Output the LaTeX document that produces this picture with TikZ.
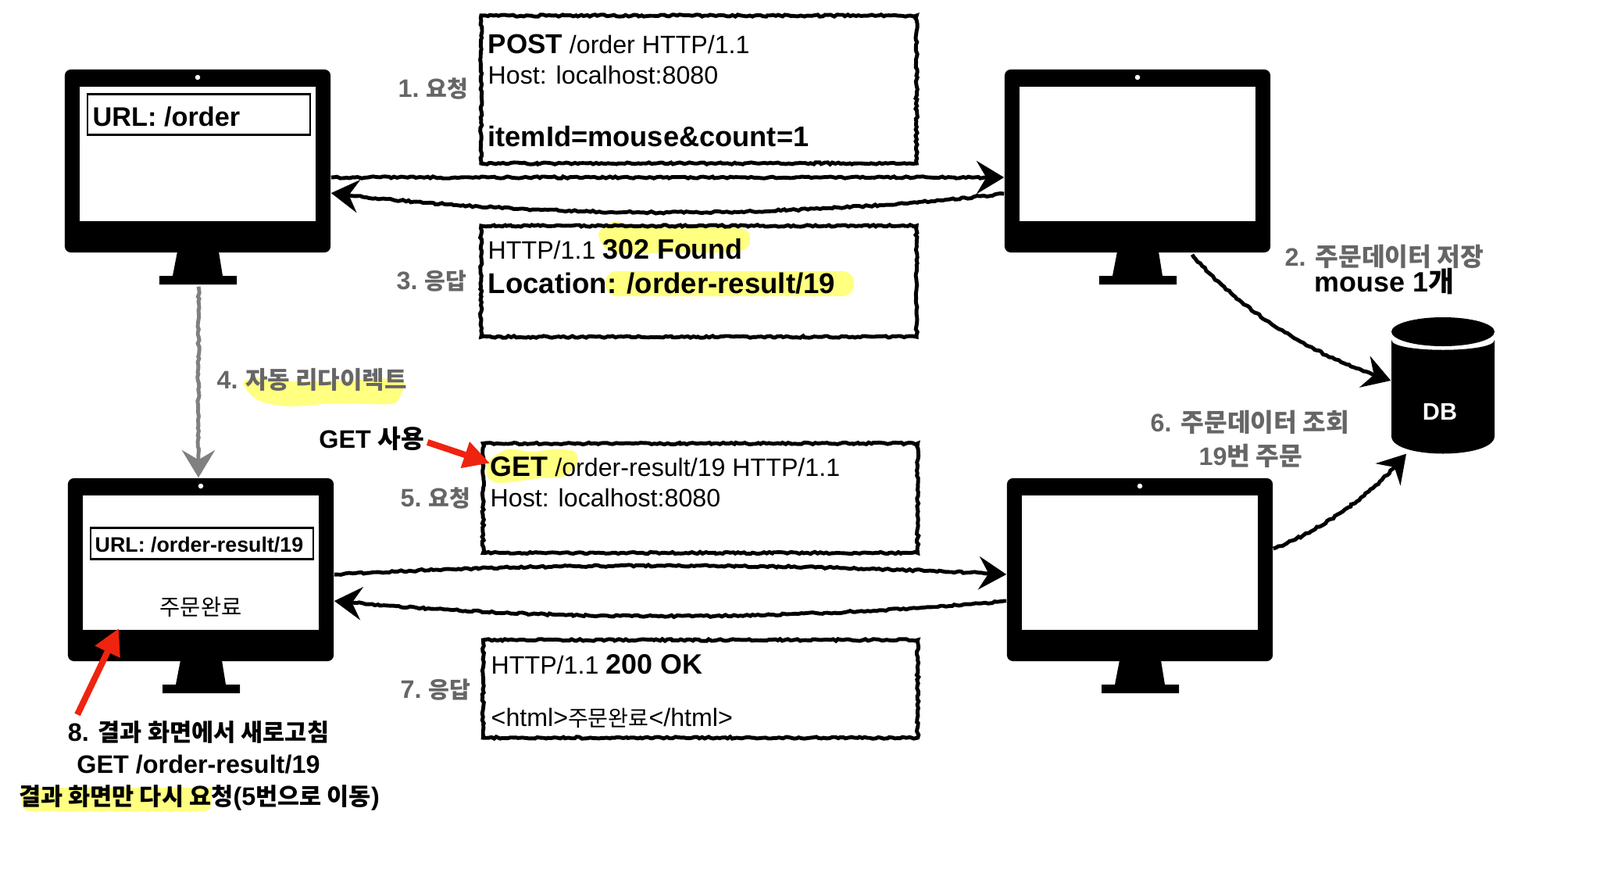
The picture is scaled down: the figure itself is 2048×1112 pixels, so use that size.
\documentclass[tikz,border=0pt]{standalone}
\usepackage{fontspec}
\usepackage{tikz}
\usetikzlibrary{decorations.pathmorphing,arrows.meta}
\setmainfont{Liberation Sans}
\newfontfamily\krfont{Noto Sans CJK KR}
\newcommand{\kr}[1]{{\krfont #1}}
\newcommand{\krsize}[2]{{\krfont\fontsize{#1}{11}\selectfont #2}}
\newcommand{\hv}[1]{{\fontsize{10.2}{12}\selectfont\bfseries #1}}
\definecolor{marker}{HTML}{FFFF80}
\definecolor{redmark}{HTML}{EE2410}
\definecolor{steptext}{HTML}{666666}
\newcommand{\monitor}[3]{
\begin{scope}[shift={(#2,#3)}]
\fill (-26,116) -- (27,116) -- (32,147) -- (50,147) -- (50,158) -- (-49,158) -- (-49,147) -- (-32,147) -- cycle;
\node[frame] (#1) at (0,0) {};
\node[screen] (#1screen) at (0,-9) {};
\node[camera] (#1cam) at (0,-107) {};
\end{scope}
}
\begin{document}
\begin{tikzpicture}[x=0.01cm,y=-0.01cm,
frame/.style={fill=black,rounded corners=2.2pt,minimum width=3.4cm,minimum height=2.34cm,inner sep=0},
screen/.style={fill=white,minimum width=3.02cm,minimum height=1.72cm,inner sep=0},
camera/.style={circle,fill=white,minimum size=0.065cm,inner sep=0},
urlbox/.style={draw,line width=0.7pt,inner sep=0},
msgbox/.style={draw,line width=1.4pt,inner sep=0,decorate,decoration={random steps,segment length=1pt,amplitude=0.35pt}},
rough/.style={line width=1.4pt,decorate,decoration={random steps,segment length=1.1pt,amplitude=0.35pt,post length=7pt}},
head/.style={-{Stealth[length=10pt,width=12pt,inset=3.5pt]}},
redarrow/.style={redmark,line width=2.3pt,-{Triangle[length=9.5pt,width=9.5pt]}},
txt/.style={inner sep=0,anchor=base west,font=\fontsize{9.15}{11}\selectfont},
big/.style={inner sep=0,anchor=base west,font=\fontsize{10.3}{12}\selectfont\bfseries},
steplabel/.style={inner sep=0,anchor=base west,text=steptext,font=\fontsize{9.2}{11}\selectfont\bfseries},
note/.style={inner sep=0,anchor=base,font=\fontsize{9.2}{11}\selectfont\bfseries},
]
\useasboundingbox (0,0) rectangle (2048,1112);
\fill[marker] plot[smooth cycle] coordinates {(784,284)(766,300)(785,323)(860,323)(945,322)(960,305)(945,291)(860,292)(810,288)};
\fill[marker,rounded corners=4pt] (775,347) rectangle (1093,379);
\fill[marker] plot[smooth cycle] coordinates {(311,490)(330,512)(370,520)(430,516)(500,517)(513,505)(513,485)(440,487)(380,488)(330,484)};
\fill[marker] plot[smooth cycle] coordinates {(625,590)(650,575)(680,578)(710,575)(736,578)(738,595)(720,610)(690,612)(640,618)(624,610)};
\fill[marker] (28,1008) [rounded corners=3pt] -- (28,1038) -- (271,1038) [sharp corners] -- (271,1008) -- cycle;
\monitor{cli}{253}{206}
\monitor{srv}{1456}{206}
\monitor{res}{257}{729}
\monitor{srvb}{1459}{729}
\node[urlbox,minimum width=2.85cm,minimum height=0.52cm] (urlcli) at (254.5,146.5) {};
\node[big,font=\fontsize{9.75}{12}\selectfont\bfseries] (urlclitext) at (118,161) {URL: /order};
\node[urlbox,minimum width=2.85cm,minimum height=0.4cm] (urlres) at (258.5,695.5) {};
\node[big,font=\fontsize{7.62}{9}\selectfont\bfseries] (urlrestext) at (121,706) {URL: /order-result/19};
\node[inner sep=0,anchor=base,font=\fontsize{8.1}{10}\selectfont] (done) at (257,787) {\kr{주문완료}};
\node[msgbox,minimum width=5.57cm,minimum height=1.89cm] (post) at (894.5,114.5) {};
\node[txt] (posta) at (624,68) {{\fontsize{9.95}{12}\selectfont\bfseries POST} /order HTTP/1.1};
\node[txt] (postb) at (624,107) {Host: localhost:8080};
\node[big] (postc) at (624,187) {itemId=mouse\&count=1};
\node[msgbox,minimum width=5.57cm,minimum height=1.42cm] (found) at (894.5,360) {};
\node[txt] (founda) at (624,331) {HTTP/1.1 \hv{302 Found}};
\node[big,font=\fontsize{10.4}{12}\selectfont\bfseries] (foundb) at (624,375) {Location: /order-result/19};
\node[msgbox,minimum width=5.56cm,minimum height=1.4cm] (get) at (896.5,637.5) {};
\node[txt] (geta) at (627,609) {\hv{GET} /order-result/19 HTTP/1.1};
\node[txt] (getb) at (627,648) {Host: localhost:8080};
\node[msgbox,minimum width=5.56cm,minimum height=1.25cm] (ok) at (896.5,881.5) {};
\node[txt] (oka) at (628,862) {HTTP/1.1 \hv{200 OK}};
\node[txt] (okb) at (628,929) {<html>\krsize{8}{주문완료}</html>};
\node[steplabel] (one) at (509,124) {1.\krsize{8.3}{ 요청}};
\node[steplabel] (three) at (507,370) {3.\krsize{8.3}{ 응답}};
\node[steplabel] (four) at (277,497) {4.\krsize{8.8}{ 자동 리다이렉트}};
\node[steplabel] (five) at (512,648) {5.\krsize{8.3}{ 요청}};
\node[steplabel] (seven) at (512,893) {7.\krsize{8.3}{ 응답}};
\node[note,text=steptext] (two) at (1772,340) {2. \kr{주문데이터 저장}};
\node[note,font=\fontsize{10.2}{12}\selectfont\bfseries] (twob) at (1772,373) {mouse 1\kr{개}};
\node[note,text=steptext] (six) at (1600,552) {6. \kr{주문데이터 조회}};
\node[note,text=steptext] (sixb) at (1601,595) {19\kr{번 주문}};
\node[note] (getuse) at (476,573) {GET \kr{사용}};
\node[note] (again) at (254,948) {8. \krsize{8.7}{결과 화면에서 새로고침}};
\node[note] (againb) at (254,989) {GET /order-result/19};
\node[note] (againc) at (255,1030) {\krsize{8.7}{결과 화면만 다시 요청}(5\krsize{8.7}{번으로 이동})};
\fill (1781,435) .. controls (1781,452) and (1913,452) .. (1913,435) -- (1913,558) .. controls (1913,588) and (1781,588) .. (1781,558) -- cycle;
\fill (1847,424.5) ellipse [x radius=66,y radius=18.5];
\node[minimum width=1.32cm,minimum height=1.74cm,inner sep=0] (db) at (1847,493) {};
\node[note,text=white,font=\fontsize{8.7}{10}\selectfont\bfseries] (dbtext) at (1843,537) {DB};
\draw[rough,head] ([yshift=-0.21cm]cli.east) -- ([yshift=-0.21cm]srv.west);
\draw[rough,head] ([yshift=-0.42cm]srv.west) .. controls (1000,280) and (700,280) .. ([yshift=-0.41cm]cli.east);
\draw[rough,head] ([yshift=-0.06cm]res.east) .. controls (700,720) and (1000,720) .. ([yshift=-0.06cm]srvb.west);
\draw[rough,head] ([yshift=-0.4cm]srvb.west) .. controls (1000,795) and (700,795) .. ([yshift=-0.4cm]res.east);
\draw[rough,head] ([xshift=0.7cm,yshift=-0.02cm]srv.south) .. controls (1590,400) and (1680,455) .. ([yshift=0.06cm]db.west);
\draw[rough,head] ([yshift=0.27cm]srvb.east) .. controls (1690,680) and (1760,630) .. ([xshift=-0.47cm]db.south);
\draw[rough,head,draw=gray,fill=gray] ([xshift=0.01cm,yshift=-0.43cm]cli.south) -- ([xshift=-0.03cm]res.north);
\coordinate (refreshtip) at (152,804);
\draw[redarrow] ([xshift=0.03cm,yshift=-0.05cm]getuse.east) -- ([yshift=0.04cm]geta.west);
\draw[redarrow] ([xshift=0.13cm,yshift=0.07cm]again.north west) -- (refreshtip);
\end{tikzpicture}
\end{document}
